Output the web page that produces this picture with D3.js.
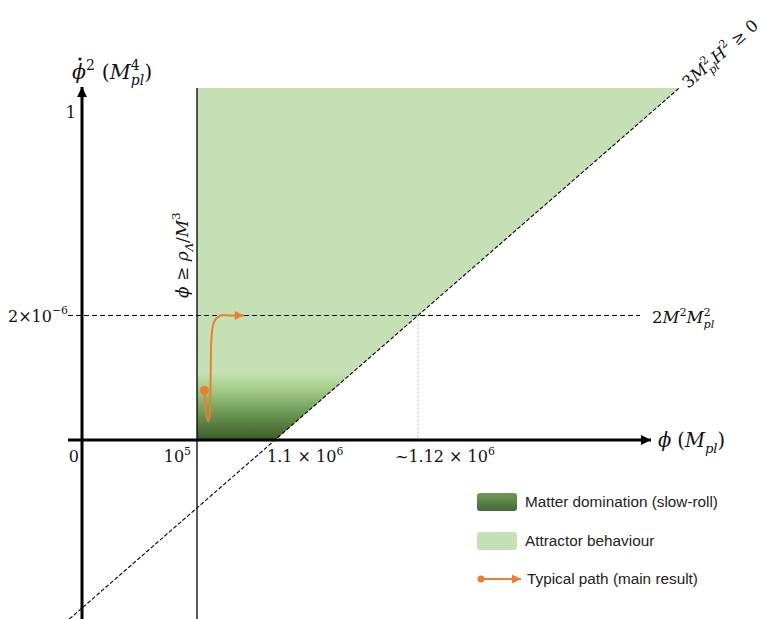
<!DOCTYPE html>
<html>
<head>
<meta charset="utf-8">
<script src="https://cdn.jsdelivr.net/npm/d3@7/dist/d3.min.js"></script>
<style>
  body { margin: 0; background: #fff; }
  text { font-family: "DejaVu Serif", serif; fill: #111; }
  .legend text { font-family: "Liberation Sans", Arial, sans-serif; font-size: 15.3px; fill: #222; }
</style>
</head>
<body>
<svg id="chart" width="768" height="619"></svg>
<script>
// schematic values: phi in M_pl, phidot^2 in M_pl^4
var phiTicks = [0, 1e5, 1.1e6, 1.12e6];
var phiTickLabels = ["0", "10^5", "1.1 × 10^6", "~1.12 × 10^6"];
var kinTicks = [0, 2e-6, 1];
var kinTickLabels = ["", "2×10^−6", "1"];
var phiMin = 1e5;                 // phi >= rho_L / M^3
var slowRollTop = 1.08e-6;        // upper edge of matter domination band
var kinLevel = 2e-6;              // 2 M^2 M_pl^2
var hubbleZero = [[1.1e6, 0], [1.12e6, 2e-6]];   // 3 M_pl^2 H^2 = 0 boundary
// typical path
var pathPhi = [1.93e5, 2.02e5, 2.2e5, 2.45e5, 2.62e5, 2.72e5, 2.78e5, 2.86e5, 3.2e5, 4.0e5, 5.3e5, 7.0e5];
var pathKin = [0.80e-6, 0.62e-6, 0.40e-6, 0.30e-6, 0.40e-6, 0.80e-6, 1.30e-6, 1.65e-6, 1.90e-6, 2.02e-6, 2.06e-6, 2.07e-6];
var legendItems = ["Matter domination (slow-roll)", "Attractor behaviour", "Typical path (main result)"];

var svg = d3.select("#chart");
var W = 768, H = 619;

// the picture is schematic, so the axis is piecewise linear
var x = d3.scaleLinear().domain(phiTicks).range([82, 197, 275, 418]);
var y = d3.scaleLinear().domain(kinTicks).range([440, 315.5, 112]);
var topPx = 88, bottomPx = H;

var defs = svg.append("defs");
var grad = defs.append("linearGradient").attr("id", "slowroll")
    .attr("x1", 0).attr("y1", 0).attr("x2", 0).attr("y2", 1);
[[0, "#c5e0b4"], [0.22, "#a8cf8c"], [0.55, "#73a05a"], [1, "#3a5a27"]].forEach(function(s) {
  grad.append("stop").attr("offset", s[0]).attr("stop-color", s[1]);
});
var grad2 = defs.append("linearGradient").attr("id", "legdark")
    .attr("x1", 0).attr("y1", 0).attr("x2", 0).attr("y2", 1);
grad2.append("stop").attr("offset", 0).attr("stop-color", "#6f9c56");
grad2.append("stop").attr("offset", 1).attr("stop-color", "#45683a");

function arrow(id, color, w, h) {
  defs.append("marker").attr("id", id)
    .attr("viewBox", "0 0 10 10").attr("refX", 10).attr("refY", 5)
    .attr("markerUnits", "userSpaceOnUse")
    .attr("markerWidth", w).attr("markerHeight", h).attr("orient", "auto")
    .append("path").attr("d", "M0,0L10,5L0,10z").attr("fill", color);
}
arrow("axArrow", "#000", 12, 10);
arrow("orArrow", "#ed7d31", 11, 9);

// boundary line 3 M_pl^2 H^2 = 0 in pixel space
var p0 = [x(hubbleZero[0][0]), y(hubbleZero[0][1])];
var p1 = [x(hubbleZero[1][0]), y(hubbleZero[1][1])];
var slope = (p1[1] - p0[1]) / (p1[0] - p0[0]);
function diagX(py) { return p0[0] + (py - p0[1]) / slope; }

// attractor region
svg.append("path")
  .attr("d", d3.line()([[x(phiMin), topPx], [x(phiMin), y(0)], [diagX(y(0)), y(0)], [diagX(topPx), topPx]]) + "Z")
  .attr("fill", "#c5e0b4");

// matter domination band
var yb = y(slowRollTop);
svg.append("path")
  .attr("d", d3.line()([[x(phiMin), yb], [x(phiMin), y(0)], [diagX(y(0)), y(0)], [diagX(yb), yb]]) + "Z")
  .attr("fill", "url(#slowroll)");

// guide lines
svg.append("line")
  .attr("x1", 68).attr("x2", 640).attr("y1", y(kinLevel)).attr("y2", y(kinLevel))
  .attr("stroke", "#000").attr("stroke-width", 1.1).attr("stroke-dasharray", "5,3");
svg.append("line")
  .attr("x1", diagX(y(kinLevel))).attr("x2", diagX(y(kinLevel)))
  .attr("y1", y(kinLevel)).attr("y2", y(0))
  .attr("stroke", "#bbb").attr("stroke-width", 1).attr("stroke-dasharray", "2,2");
svg.append("line")
  .attr("x1", diagX(bottomPx)).attr("y1", bottomPx)
  .attr("x2", diagX(topPx)).attr("y2", topPx)
  .attr("stroke", "#000").attr("stroke-width", 1.1).attr("stroke-dasharray", "4,2");
svg.append("line")
  .attr("x1", x(phiMin)).attr("x2", x(phiMin)).attr("y1", topPx).attr("y2", bottomPx)
  .attr("stroke", "#000").attr("stroke-width", 1.3);

// axes
svg.append("line")
  .attr("x1", x(0)).attr("x2", x(0)).attr("y1", bottomPx).attr("y2", topPx - 1)
  .attr("stroke", "#000").attr("stroke-width", 3).attr("marker-end", "url(#axArrow)");
svg.append("line")
  .attr("x1", 68).attr("x2", 651).attr("y1", y(0)).attr("y2", y(0))
  .attr("stroke", "#000").attr("stroke-width", 3).attr("marker-end", "url(#axArrow)");

// typical path
var pathPts = pathPhi.map(function(p, i) { return [x(p), y(pathKin[i])]; });
svg.append("path")
  .attr("d", d3.line().curve(d3.curveCatmullRom.alpha(0.5))(pathPts))
  .attr("fill", "none").attr("stroke", "#ed7d31").attr("stroke-width", 2)
  .attr("marker-end", "url(#orArrow)");
svg.append("circle").attr("cx", pathPts[0][0]).attr("cy", pathPts[0][1]).attr("r", 4.5).attr("fill", "#ed7d31");

// small math typesetter: pieces of {t, i (italic), pos: "sub"/"sup", keep (no advance)}
function math(parent, px, py, pieces, fs, anchor, transform) {
  var g = parent.append("g");
  var inner = g.append("g");
  var cx = 0;
  pieces.forEach(function(p) {
    var size = fs, dy = 0;
    if (p.pos === "sub") { size = fs * 0.68; dy = fs * 0.3; }
    if (p.pos === "sup") { size = fs * 0.68; dy = -fs * 0.45; }
    var t = inner.append("text").attr("x", cx).attr("y", dy)
      .attr("font-size", size).attr("font-style", p.i ? "italic" : "normal")
      .attr("xml:space", "preserve").text(p.t);
    if (!p.keep) cx += t.node().getComputedTextLength() + (p.gap || 0);
  });
  var off = anchor === "end" ? -cx : anchor === "middle" ? -cx / 2 : 0;
  inner.attr("transform", "translate(" + off + ",0)");
  g.attr("transform", "translate(" + px + "," + py + ")" + (transform || ""));
  return g;
}
function parseLabel(s) {
  // "10^5" style labels into pieces
  var parts = s.split("^");
  var out = [{t: parts[0]}];
  if (parts[1]) out.push({t: parts[1], pos: "sup"});
  return out;
}

// axis tick labels
phiTickLabels.forEach(function(lab, i) {
  var px = x(phiTicks[i]);
  var anchor = i < 2 ? "end" : "start";
  var dx = i === 0 ? -3 : i === 1 ? -6 : i === 2 ? -8 : -23;
  math(svg, px + dx, y(0) + 22, parseLabel(lab), 16, anchor);
});
kinTickLabels.forEach(function(lab, i) {
  if (!lab) return;
  var dx = i === 1 ? -14 : -6;
  math(svg, x(0) + dx, y(kinTicks[i]) + 6, parseLabel(lab), 16, "end");
});

// axis titles
math(svg, 72, 79, [
  {t: "ϕ", i: true}, {t: "2", pos: "sup", gap: 7}, {t: "("},
  {t: "M", i: true}, {t: "4", pos: "sup", keep: true}, {t: "pl", i: true, pos: "sub"}, {t: ")"}
], 20.5, "start");
// dot over phi
svg.append("circle").attr("cx", 80).attr("cy", 59).attr("r", 1.6).attr("fill", "#111");

math(svg, 658, 447, [
  {t: "ϕ", i: true, gap: 6}, {t: "("}, {t: "M", i: true}, {t: "pl", i: true, pos: "sub"}, {t: ")"}
], 19.5, "start");

math(svg, 652, 323, [
  {t: "2"}, {t: "M", i: true}, {t: "2", pos: "sup"}, {t: "M", i: true},
  {t: "2", pos: "sup", keep: true}, {t: "pl", i: true, pos: "sub"}
], 16.5, "start");

var ang = Math.atan(-slope) * 180 / Math.PI;
math(svg, diagX(topPx) + 9, topPx + 1, [
  {t: "3"}, {t: "M", i: true}, {t: "2", pos: "sup", keep: true}, {t: "pl", i: true, pos: "sub"},
  {t: "H", i: true}, {t: "2", pos: "sup", gap: 5}, {t: "≥ 0"}
], 16.5, "start", " rotate(" + (-ang) + ")");

math(svg, x(phiMin) - 9, 298, [
  {t: "ϕ ≥ ", i: true}, {t: "ρ", i: true}, {t: "Λ", i: true, pos: "sub"},
  {t: "/"}, {t: "M", i: true}, {t: "3", pos: "sup"}
], 17, "start", " rotate(-90)");

// legend
var leg = svg.append("g").attr("class", "legend");
var lx = 477, ly = [502, 541, 579];
leg.append("rect").attr("x", lx).attr("y", ly[0] - 9).attr("width", 40).attr("height", 18)
  .attr("rx", 3).attr("fill", "url(#legdark)");
leg.append("rect").attr("x", lx).attr("y", ly[1] - 9).attr("width", 40).attr("height", 18)
  .attr("rx", 3).attr("fill", "#c5e0b4");
leg.append("line").attr("x1", lx + 4).attr("x2", lx + 44).attr("y1", ly[2]).attr("y2", ly[2])
  .attr("stroke", "#ed7d31").attr("stroke-width", 1.8).attr("marker-end", "url(#orArrow)");
leg.append("circle").attr("cx", lx + 4).attr("cy", ly[2]).attr("r", 3.5).attr("fill", "#ed7d31");
legendItems.forEach(function(t, i) {
  leg.append("text").attr("x", lx + 48 + (i === 2 ? 2 : 0)).attr("y", ly[i] + 5).text(t);
});
</script>
</body>
</html>
